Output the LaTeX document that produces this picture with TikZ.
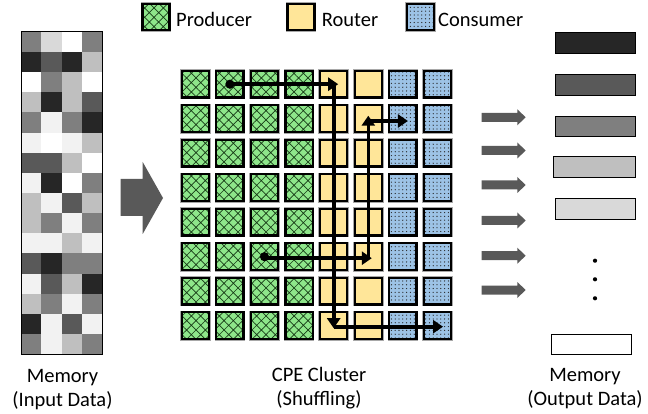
\documentclass[tikz,border=0pt]{standalone}
\usepackage{fontspec}
\setmainfont{Carlito}
\usetikzlibrary{patterns.meta,arrows.meta}

\definecolor{prodgreen}{HTML}{8EE68A}
\definecolor{hatchgreen}{HTML}{163A16}
\definecolor{routeryellow}{HTML}{FFE699}
\definecolor{consblue}{HTML}{9DC3E6}
\definecolor{arrowgray}{HTML}{595959}
\definecolor{halo}{HTML}{A8A8A8}
% grey levels of the memory words
\definecolor{mem1}{HTML}{262626}
\definecolor{mem2}{HTML}{595959}
\definecolor{mem3}{HTML}{7F7F7F}
\definecolor{mem4}{HTML}{BFBFBF}
\definecolor{mem5}{HTML}{D9D9D9}
\definecolor{mem6}{HTML}{F2F2F2}
\definecolor{mem7}{HTML}{FFFFFF}

\tikzset{
  cellbase/.style={minimum width=27.3pt, minimum height=26.7pt, inner sep=0pt,
    outer sep=0pt, draw=black, line width=2.2pt,
    preaction={draw=halo, line width=3.4pt}},
  producer/.style={cellbase, preaction={fill=prodgreen},
    pattern={Hatch[angle=45,distance=6.6pt,line width=0.7pt]},
    pattern color=hatchgreen},
  router/.style={cellbase, fill=routeryellow},
  consumer/.style={cellbase, preaction={fill=consblue},
    pattern={Dots[distance=3.8pt,radius=0.65pt]}, pattern color=black!85},
  flow/.style={line width=3.6pt, -{Triangle[length=10pt,width=13pt]}},
  bar/.style={draw=black, line width=0.9pt, minimum width=80.7pt,
    minimum height=20.6pt, inner sep=0pt},
  lbl/.style={font=\fontsize{20.5}{24}\selectfont, inner sep=0pt, align=center},
}

\begin{document}
\begin{tikzpicture}[x=1pt,y=-1pt]
\useasboundingbox (0,0) rectangle (648,414);

% ---- legend ----
\node[producer, minimum width=27pt, minimum height=26pt] (legP) at (156,17) {};
\node[lbl, anchor=base west] (legPt) at (176,26.7) {Producer};
\node[router, minimum width=27pt, minimum height=26pt] (legR) at (301,17) {};
\node[lbl, anchor=base west] (legRt) at (321.7,26.7) {Router};
\node[consumer, minimum width=27pt, minimum height=26pt] (legC) at (420.5,17) {};
\node[lbl, anchor=base west] (legCt) at (438,26.7) {Consumer};

% ---- input memory ----
\foreach \a/\b/\cc/\d [count=\r from 0] in
  {3/5/7/3, 1/2/1/4, 7/3/4/7, 4/1/4/2, 3/6/3/1, 6/7/6/4, 2/2/4/7, 6/1/7/3,
   4/6/2/4, 4/3/6/3, 6/6/4/6, 2/1/3/3, 6/2/4/1, 4/3/6/3, 1/6/2/6, 3/6/4/3}{
  \foreach \v [count=\c from 0] in {\a,\b,\cc,\d}
    \fill[mem\v] ({21+20.25*\c},{32+20.125*\r}) rectangle ++(20.25,20.125);
}
\node[draw=black, line width=1pt, minimum width=81pt, minimum height=322pt,
  inner sep=0pt] (inmem) at (61.5,193) {};
\node[lbl] (inlbl) at (62.5,390) {Memory\\(Input Data)};

% ---- big transfer arrow ----
\fill[arrowgray] (120.7,179) -- (142.7,179) -- (142.7,162) -- (163,198)
  -- (142.7,234) -- (142.7,216) -- (120.7,216) -- cycle;

% ---- CPE cluster ----
\foreach \r in {0,...,7}{
  \foreach \c in {0,...,3}
    \node[producer] (c-\r-\c) at ({195.3+34.6*\c},{84.2+34.5*\r}) {};
  \foreach \c in {4,5}
    \node[router] (c-\r-\c) at ({195.3+34.6*\c},{84.2+34.5*\r}) {};
  \foreach \c in {6,7}
    \node[consumer] (c-\r-\c) at ({195.3+34.6*\c},{84.2+34.5*\r}) {};
}
\node[lbl] (cpelbl) at (319,388) {CPE Cluster\\(Shuffling)};

% first route
\fill (c-0-1.center) circle (4.6pt);
\draw[flow] (c-0-1.center) -- ([xshift=4.5pt]c-0-4.center);
\draw[flow] (c-0-4.center) -- ([shift={(0,2.5)}]c-7-4.center);
\draw[flow] ([shift={(0,1)}]c-7-4.center) -- ([shift={(5.5,1)}]c-7-7.center);

% second route
\fill (c-5-2.center) circle (4.6pt);
\draw[flow] ([shift={(0,1.5)}]c-5-2.center) -- ([shift={(3.5,1.5)}]c-5-5.center);
\draw[flow] ([shift={(0,1.5)}]c-5-5.center) -- ([shift={(0,-3)}]c-1-5.center);
\draw[flow] ([shift={(0,2.3)}]c-1-5.center) -- ([shift={(5,2.3)}]c-1-6.center);

% ---- write-back arrows ----
\foreach \y in {117.3,150.5,185,220.5,255.7,290}
  \fill[arrowgray] (481.7,\y-4.5) -- (517.3,\y-4.5) -- (517.3,\y-8)
    -- (525.7,\y) -- (517.3,\y+8) -- (517.3,\y+4.5) -- (481.7,\y+4.5) -- cycle;

% ---- output memory ----
\node[bar, fill=mem1] (out1) at (595.3,43) {};
\node[bar, fill=mem2] (out2) at (595.3,85) {};
\node[bar, fill=mem3] (out3) at (595.3,126.3) {};
\node[bar, fill=mem4, minimum width=82.4pt] (out4) at (594.5,166.7) {};
\node[bar, fill=mem5] (out5) at (595.3,208.7) {};
\foreach \y in {260.7,279.3,298.3}
  \fill (595,\y) circle (2.1pt);
\node[bar, fill=white, minimum width=80.7pt, minimum height=20pt] (outlast) at (591.3,344.3) {};
\node[lbl] (outlbl) at (585,389) {Memory\\(Output Data)};
\end{tikzpicture}
\end{document}
